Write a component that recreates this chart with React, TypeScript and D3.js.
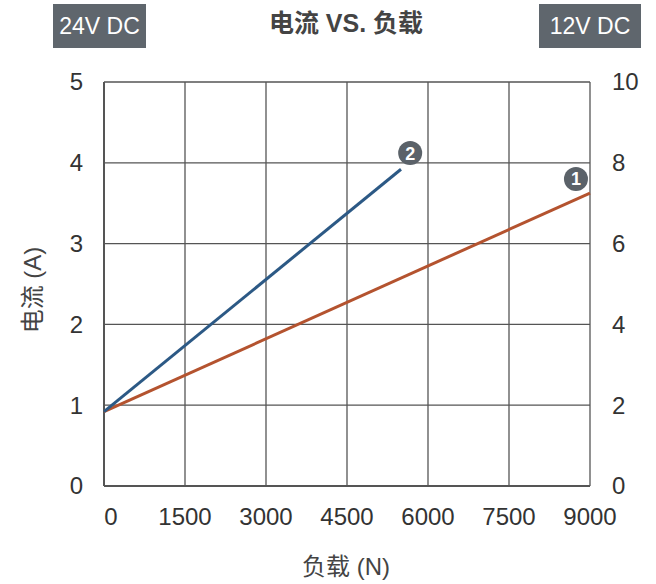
import React, { useEffect, useRef } from 'react';
import * as d3 from 'd3';

// 24V DC line, read on the left axis (A)
const series24 = [
  { load: 0, current: 0.92 },
  { load: 5500, current: 3.92 },
];
// 12V DC line, read on the right axis (A)
const series12 = [
  { load: 0, current: 1.84 },
  { load: 9000, current: 7.25 },
];
const xTicks = [0, 1500, 3000, 4500, 6000, 7500, 9000];
const leftTicks = [0, 1, 2, 3, 4, 5];
const rightTicks = [0, 2, 4, 6, 8, 10];
const badges = [
  { label: '2', load: 5670, current: 4.12, axis: 'left' },
  { label: '1', load: 8740, current: 7.6, axis: 'right' },
];

const FONT = '"Liberation Sans", Arial, "Noto Sans CJK SC", sans-serif';

const App = () => {
  const svgRef = useRef(null);

  useEffect(() => {
    const W = 656, H = 584;
    const margin = { top: 82, right: 66, bottom: 98, left: 104 };
    const width = W - margin.left - margin.right;
    const height = H - margin.top - margin.bottom;

    const svg = d3.select(svgRef.current);
    svg.selectAll('*').remove();
    svg.attr('width', W).attr('height', H).style('font-family', FONT);

    const x = d3.scaleLinear().domain([0, 9000]).range([0, width]);
    const yL = d3.scaleLinear().domain([0, 5]).range([height, 0]);
    const yR = d3.scaleLinear().domain([0, 10]).range([height, 0]);

    const g = svg.append('g').attr('transform', `translate(${margin.left},${margin.top})`);

    // grid
    g.selectAll('.hgrid').data(leftTicks).enter().append('line')
      .attr('x1', 0).attr('x2', width)
      .attr('y1', d => yL(d)).attr('y2', d => yL(d))
      .attr('stroke', '#555').attr('stroke-width', 1.3);
    g.selectAll('.vgrid').data(xTicks).enter().append('line')
      .attr('y1', 0).attr('y2', height)
      .attr('x1', d => x(d)).attr('x2', d => x(d))
      .attr('stroke', '#555').attr('stroke-width', 1.3);

    // axis lines
    g.append('line').attr('x1', 0).attr('x2', 0).attr('y1', 0).attr('y2', height)
      .attr('stroke', '#555').attr('stroke-width', 2);
    g.append('line').attr('x1', 0).attr('x2', width).attr('y1', height).attr('y2', height)
      .attr('stroke', '#555').attr('stroke-width', 2);

    // tick labels
    g.selectAll('.lt').data(leftTicks).enter().append('text')
      .attr('x', -21).attr('y', d => yL(d)).attr('dy', '0.35em')
      .attr('text-anchor', 'end').attr('font-size', 24).attr('fill', '#333')
      .text(d => d);
    g.selectAll('.rt').data(rightTicks).enter().append('text')
      .attr('x', width + 22).attr('y', d => yR(d)).attr('dy', '0.35em')
      .attr('text-anchor', 'start').attr('font-size', 24).attr('fill', '#333')
      .text(d => d);
    g.selectAll('.bt').data(xTicks).enter().append('text')
      .attr('x', d => (d === 0 ? x(d) + 7 : x(d))).attr('y', height + 39)
      .attr('text-anchor', 'middle').attr('font-size', 24).attr('fill', '#333')
      .text(d => d);

    // lines
    const line24 = d3.line().x(d => x(d.load)).y(d => yL(d.current));
    const line12 = d3.line().x(d => x(d.load)).y(d => yR(d.current));
    g.append('path').datum(series12).attr('d', line12)
      .attr('fill', 'none').attr('stroke', '#b4532f').attr('stroke-width', 3);
    g.append('path').datum(series24).attr('d', line24)
      .attr('fill', 'none').attr('stroke', '#2c5985').attr('stroke-width', 3);

    // badges
    const bg = g.selectAll('.badge').data(badges).enter().append('g')
      .attr('transform', d => `translate(${x(d.load)},${d.axis === 'left' ? yL(d.current) : yR(d.current)})`);
    bg.append('circle').attr('r', 12).attr('fill', '#5b6269');
    bg.append('text').attr('text-anchor', 'middle').attr('dy', '0.36em')
      .attr('font-size', 18).attr('font-weight', 'bold').attr('fill', '#fff')
      .text(d => d.label);

    // axis titles
    svg.append('text').attr('x', 346).attr('y', 575).attr('text-anchor', 'middle')
      .attr('font-size', 24).attr('fill', '#444').text('负载 (N)');
    svg.append('text').attr('transform', 'translate(41,290) rotate(-90)')
      .attr('text-anchor', 'middle').attr('font-size', 24).attr('fill', '#444')
      .text('电流 (A)');

    // title
    svg.append('text').attr('x', 346).attr('y', 32).attr('text-anchor', 'middle')
      .attr('font-size', 25).attr('font-weight', 'bold').attr('fill', '#444')
      .text('电流 VS. 负载');

    // voltage tags
    const tags = [
      { label: '24V DC', x: 53, w: 93 },
      { label: '12V DC', x: 539, w: 102 },
    ];
    const tg = svg.selectAll('.tag').data(tags).enter().append('g');
    tg.append('rect').attr('x', d => d.x).attr('y', 4).attr('width', d => d.w).attr('height', 44)
      .attr('fill', '#5f666d');
    tg.append('text').attr('x', d => d.x + d.w / 2).attr('y', 26).attr('dy', '0.35em')
      .attr('text-anchor', 'middle').attr('font-size', 23).attr('fill', '#fff')
      .text(d => d.label);
  }, []);

  return (
    <svg ref={svgRef} style={{ position: 'absolute', left: 0, top: 0, overflow: 'visible' }}></svg>
  );
};

export default App;
